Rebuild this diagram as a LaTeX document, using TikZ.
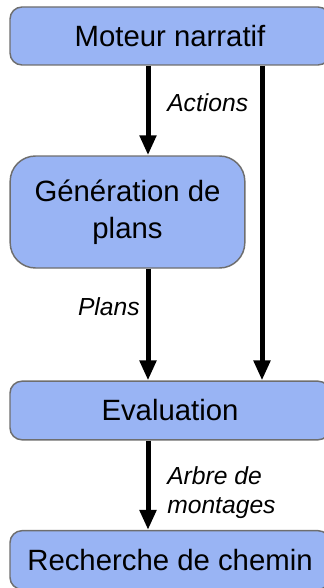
\documentclass[tikz,border=0pt]{standalone}
\usepackage{fontspec}
\setmainfont{Liberation Sans}
\usetikzlibrary{arrows.meta}
\definecolor{boxblue}{HTML}{99B4F4}
\definecolor{boxline}{HTML}{6E6E6E}
\tikzset{
  block/.style={draw=boxline, line width=1.1pt, fill=boxblue, rounded corners=9pt,
    inner sep=0pt, font=\fontsize{22}{27.75}\selectfont, align=center},
  flow/.style={line width=3.75pt, -{Triangle[length=15pt,width=12pt]}},
  lbl/.style={font=\fontsize{18.5}{21.75}\selectfont\itshape, inner sep=0pt}
}
\begin{document}
\begin{tikzpicture}[x=0.75pt,y=-0.75pt]
\useasboundingbox (0,0) rectangle (324,588);
% Blocks
\node[block, minimum width=240pt, minimum height=43.5pt] (moteur) at (170,36) {Moteur narratif};
\node[block, minimum width=176pt, minimum height=84pt, rounded corners=19pt] (gen) at (127.5,212) {G\'en\'eration de\\plans};
\node[block, minimum width=240pt, minimum height=44pt] (eval) at (170,410.5) {Evaluation};
\node[block, minimum width=240pt, minimum height=44pt] (chemin) at (170,560) {Recherche de chemin};

% Arrows
\coordinate (left) at (148,0);
\coordinate (right) at (262,0);
\draw[flow] (moteur.south -| left) -- (gen.north -| left);
\draw[flow] (gen.south -| left) -- (eval.north -| left);
\draw[flow] (moteur.south -| right) -- (eval.north -| right);
\draw[flow] (eval.south -| left) -- (chemin.north -| left);

% Labels
\node[lbl, anchor=west] (actions) at (167,103) {Actions};
\node[lbl, anchor=east] (plans) at (140,307) {Plans};
\node[lbl, anchor=west, align=left] (arbre) at (167,492.5) {Arbre de\\montages};

\end{tikzpicture}
\end{document}
